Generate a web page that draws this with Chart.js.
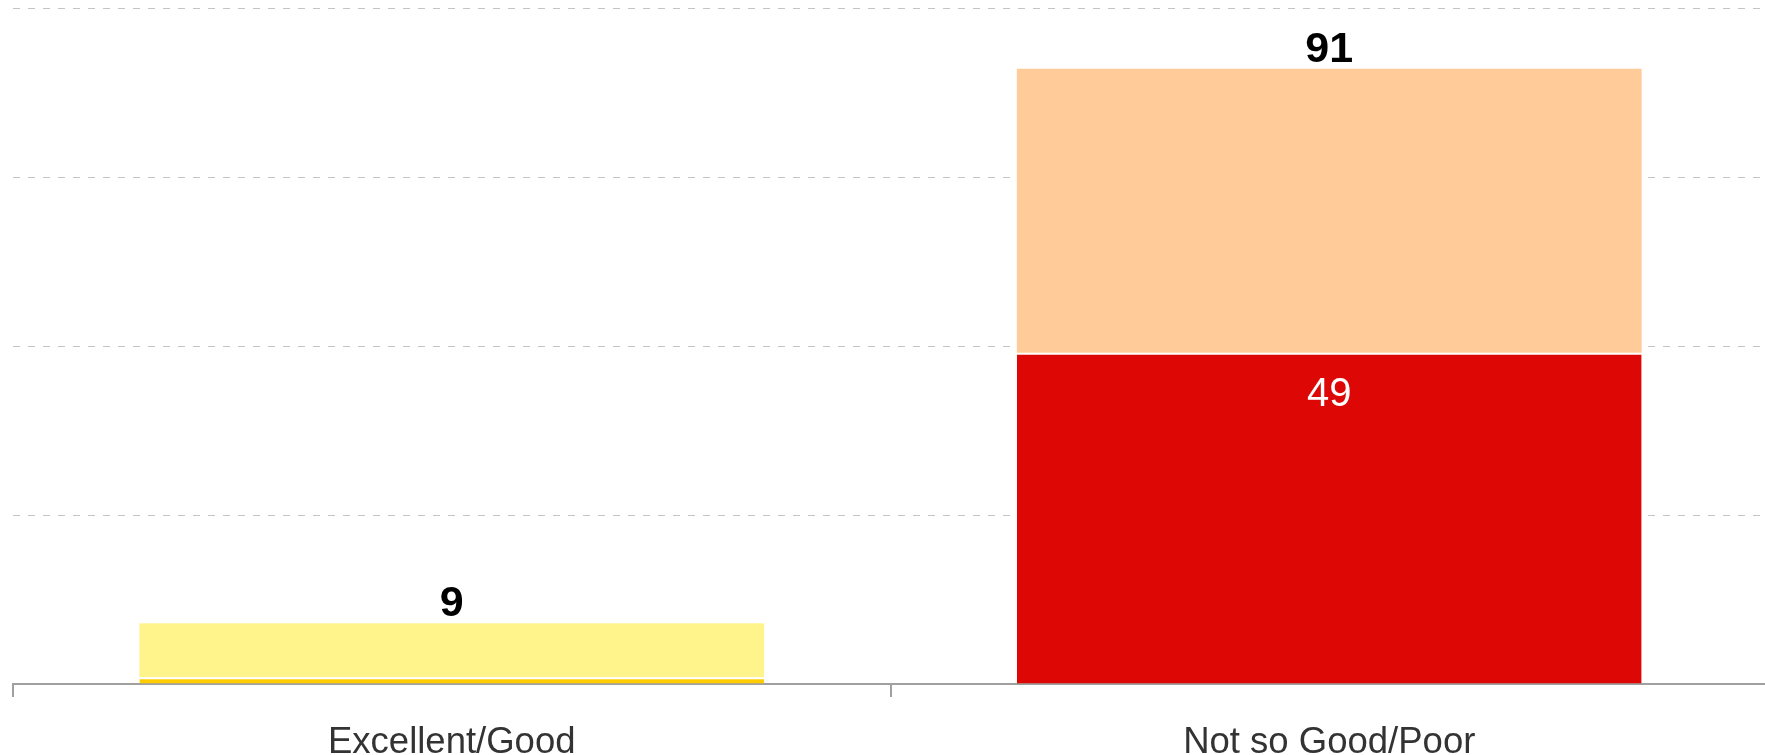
<!DOCTYPE html>
<html>
<head>
<meta charset="utf-8">
<script src="https://cdn.jsdelivr.net/npm/chart.js@4/dist/chart.umd.min.js"></script>
<style>
  html, body { margin: 0; padding: 0; background: #fff; overflow: hidden; }
  #wrap { width: 1768px; height: 755px; position: relative; }
</style>
</head>
<body>
<div id="wrap"><canvas id="ratingChart"></canvas></div>
<script>
  const categories = ['Excellent/Good', 'Not so Good/Poor'];
  // bottom segment: Excellent / Poor, top segment: Good / Not so good
  const strongValues = [1, 49];
  const mildValues = [8, 42];
  const yTicks = [0, 25, 50, 75, 100];

  const strongColors = ['#ffcc00', '#dd0806'];
  const mildColors = ['#fff48c', '#ffcc99'];
  const fontFamily = "'Liberation Sans', Arial, sans-serif";

  const barLabels = {
    id: 'barLabels',
    afterDatasetsDraw(chart) {
      const ctx = chart.ctx;
      const x = chart.scales.x;
      const y = chart.scales.y;
      ctx.save();
      ctx.textAlign = 'center';
      ctx.textBaseline = 'alphabetic';

      // totals above each bar
      ctx.fillStyle = '#000';
      ctx.font = 'bold 43px ' + fontFamily;
      categories.forEach((c, i) => {
        const total = strongValues[i] + mildValues[i];
        ctx.fillText(String(total), x.getPixelForValue(i), y.getPixelForValue(total) - 7);
      });

      // value inside the lower segment when it is big enough
      ctx.fillStyle = '#fff';
      ctx.font = '40px ' + fontFamily;
      chart.getDatasetMeta(0).data.forEach((bar, i) => {
        if (strongValues[i] < 10) return;
        ctx.fillText(String(strongValues[i]), bar.x, bar.y + 53);
      });
      ctx.restore();
    }
  };

  new Chart(document.getElementById('ratingChart').getContext('2d'), {
    type: 'bar',
    data: {
      labels: categories,
      datasets: [
        {
          label: 'Excellent / Poor',
          data: strongValues,
          backgroundColor: strongColors,
          borderColor: '#fff',
          borderWidth: { top: 2, left: 0, right: 0, bottom: 0 },
          borderSkipped: false
        },
        {
          label: 'Good / Not so good',
          data: mildValues,
          backgroundColor: mildColors,
          borderWidth: 0
        }
      ]
    },
    options: {
      responsive: true,
      maintainAspectRatio: false,
      animation: false,
      layout: { padding: { top: 8, right: 0, left: 0, bottom: 0 } },
      categoryPercentage: 0.712,
      barPercentage: 1,
      plugins: {
        legend: { display: false },
        tooltip: { enabled: false }
      },
      scales: {
        x: {
          stacked: true,
          afterFit: s => { s.height = 71; },
          grid: {
            drawOnChartArea: false,
            drawTicks: true,
            tickLength: 13,
            color: '#a0a0a0',
            lineWidth: 2
          },
          border: { display: true, color: '#a0a0a0', width: 2 },
          ticks: {
            color: '#333',
            padding: 24,
            font: { family: fontFamily, size: 36.5 }
          }
        },
        y: {
          stacked: true,
          min: yTicks[0],
          max: yTicks[yTicks.length - 1],
          afterFit: s => { s.width = 13; },
          afterBuildTicks: s => { s.ticks = yTicks.map(v => ({ value: v })); },
          ticks: { display: false },
          grid: { drawTicks: false, color: '#c4c4c4', lineWidth: 1 },
          border: { display: false, dash: [7, 8] }
        }
      }
    },
    plugins: [barLabels]
  });
</script>
</body>
</html>
